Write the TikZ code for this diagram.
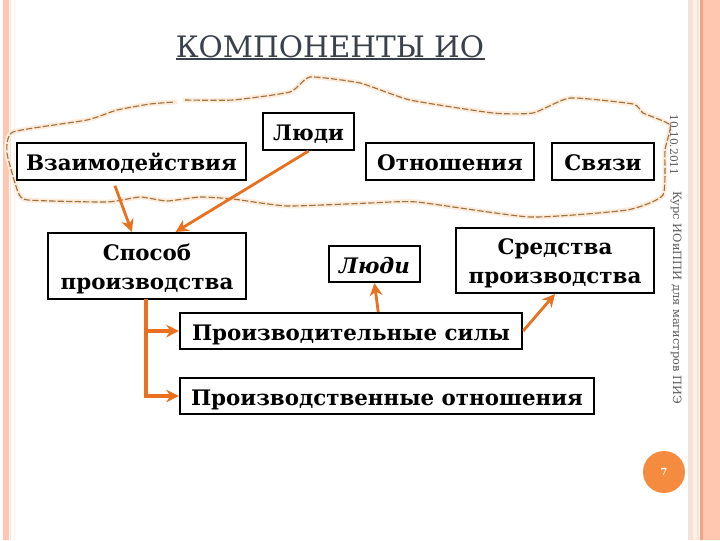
\documentclass[tikz,border=0pt]{standalone}
\usepackage{fontspec}
\setmainfont{DejaVu Serif}
\definecolor{band}{HTML}{FFC6B0}
\definecolor{bandpale}{HTML}{F5E2D8}
\definecolor{bandcream}{HTML}{FDF1E6}
\definecolor{banddark}{HTML}{F2A27F}
\definecolor{arrowc}{HTML}{E8701E}
\definecolor{cloudc}{HTML}{A0703F}
\definecolor{haloc}{HTML}{FDEBDC}
\definecolor{titlec}{HTML}{3A414B}
\definecolor{numc}{HTML}{F58B3F}
\usetikzlibrary{arrows.meta}

\begin{document}
\begin{tikzpicture}[x=0.025cm,y=-0.025cm,line cap=rect]
  \tikzstyle{box}=[draw=black,line width=1.5pt,fill=white,inner sep=0pt,align=center,font=\bfseries\fontsize{15.2}{20.6}\selectfont,text height=13.5pt,text depth=0.7pt];
  \tikzstyle{twoline}=[text height=35.2pt,text depth=1.2pt];
  \tikzstyle{conn}=[draw=arrowc,line width=2pt,line cap=butt,-{Stealth[length=9pt,width=9pt]}];
  \tikzstyle{side}=[rotate=-90,text=gray!70!black,inner sep=0pt];
  \tikzstyle{cloud}=[preaction={draw=haloc,line width=3.5pt},draw=cloudc,line width=0.8pt,line cap=butt,dash pattern=on 4.5pt off 1.5pt];
  \useasboundingbox (0,0) rectangle (720,540);

  % side bands
  \fill [band] (3,0) rectangle (9,540);
  \fill [bandpale] (10,0) rectangle (11,540);
  \fill [bandcream] (14,0) rectangle (15,540);
  \fill [bandpale] (688,0) rectangle (693,540);
  \fill [bandcream] (693,0) rectangle (697,540);
  \fill [bandpale] (697,0) rectangle (699,540);
  \fill [banddark] (700,0) rectangle (703,540);
  \fill [band] (703,0) rectangle (720,540);

  % title
  \node (title) at (330,47) [inner sep=0pt,text=titlec,font=\fontsize{21}{24}\selectfont] {КОМПОНЕНТЫ ИО};
  \draw [titlec,line width=1.4pt,line cap=butt] (title.west |- 0,59) coordinate (ulstart) -- (title.east |- 0,59) coordinate (ulend);

  % cloud
  \draw [cloud] plot[smooth,tension=0.3] coordinates {(185,100) (233,100) (290,92) (310,77) (360,83) (410,100) (493,113) (533,113) (570,98) (633,104) (643,113) (670,125) (665,150) (663,195) (627,210) (530,217) (417,202) (370,203) (287,206) (233,199) (200,197) (167,201) (140,197) (107,202) (28,200) (18,192) (7,153) (13,132) (87,120) (117,110) (150,104) (175,102)};

  % top row
  \node[box,minimum width=91*0.7113pt,minimum height=37*0.7113pt] (lyudi) at (308.5,131.5) {Люди};
  \node[box,minimum width=229*0.7113pt,minimum height=37*0.7113pt] (vzaim) at (131.5,161.5) {Взаимодействия};
  \node[box,minimum width=168*0.7113pt,minimum height=37*0.7113pt] (otnosh) at (450,161.5) {Отношения};
  \node[box,minimum width=102*0.7113pt,minimum height=37*0.7113pt] (svyazi) at (603,161.5) {Связи};

  % middle row
  \node[box,twoline,minimum width=198*0.7113pt,minimum height=66*0.7113pt] (sposob) at (147,266) {Способ\\производства};
  \node[box,minimum width=91*0.7113pt,minimum height=36*0.7113pt] (lyudik) at (374.5,264) {\itshape Люди};
  \node[box,twoline,text height=33.6pt,minimum width=198*0.7113pt,minimum height=65*0.7113pt] (sredstva) at (555,260.5) {Средства\\производства};

  % bottom row
  \node[box,minimum width=342*0.7113pt,minimum height=36*0.7113pt] (prodsily) at (351,331) {Производительные силы};
  \node[box,minimum width=414*0.7113pt,minimum height=36*0.7113pt] (prodotn) at (387,396) {Производственные отношения};

  % arrows
  \draw [conn,shorten <=3.5pt] (vzaim.227) -- (sposob.114);
  \draw [conn] (lyudi.south) -- (sposob.50);
  \draw [conn] (prodsily.35) -- (lyudik.south);
  \draw [conn] (prodsily.east) -- (sredstva.south);
  \coordinate (trunk) at (146,299);
  \draw [conn,line width=2.5pt] (trunk) |- (prodsily.west);
  \draw [conn,line width=2.5pt] (trunk) |- (prodotn.west);

  % side text
  \node[side,font=\fontsize{7.6}{9}\selectfont] (datetxt) at (674,145) {10.10.2011};
  \node[side,font=\fontsize{8.1}{9}\selectfont] (kurs) at (676,297.5) {Курс ИОиППИ для магистров ПИЭ};

  % page number
  \node[circle,fill=numc,minimum size=42*0.7113pt,inner sep=0pt,text=white,font=\bfseries\fontsize{7}{8}\selectfont] (num) at (664,472) {7};
\end{tikzpicture}
\end{document}
